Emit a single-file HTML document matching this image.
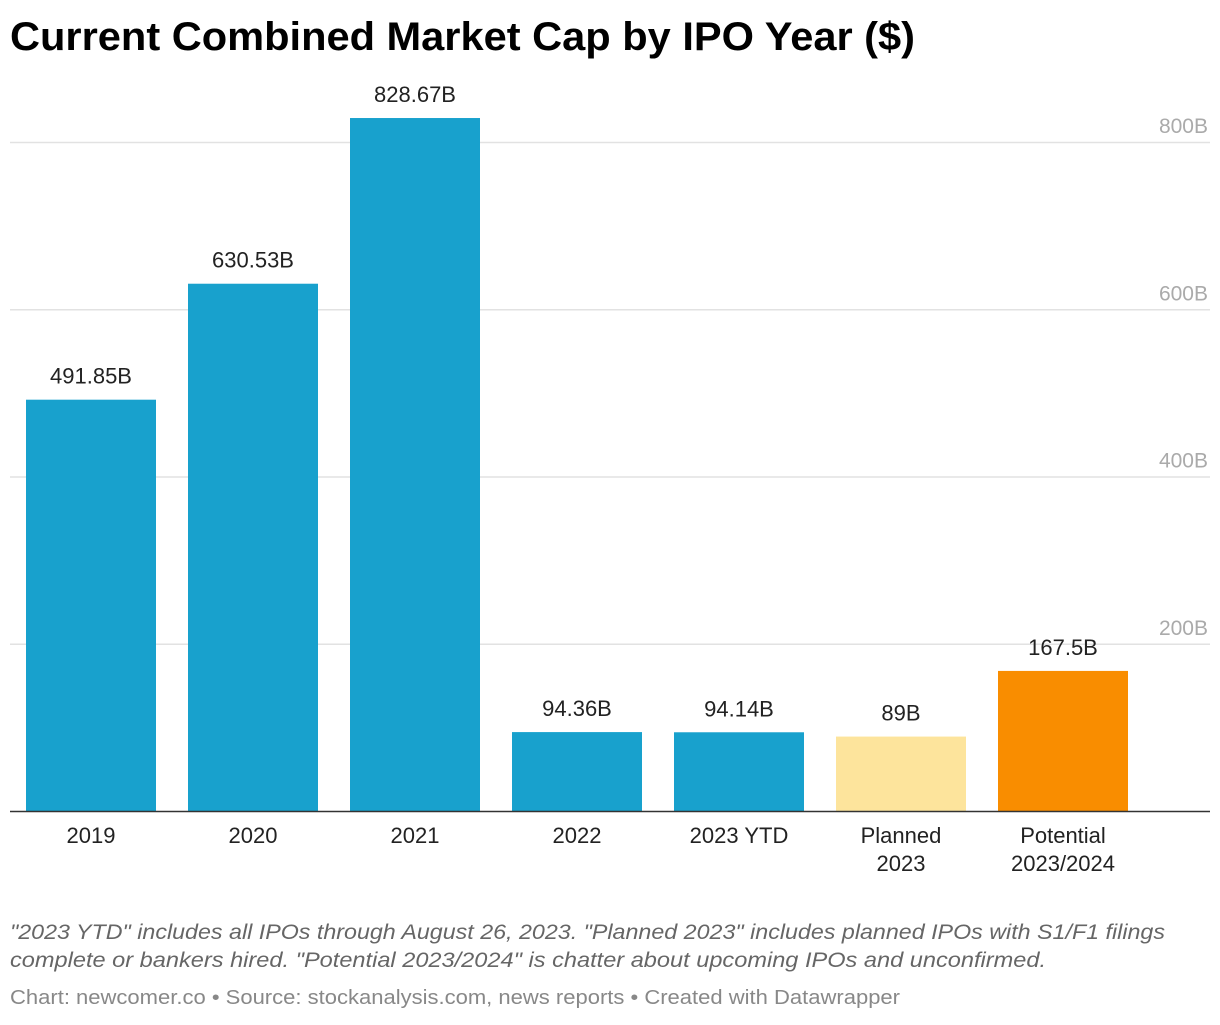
<!DOCTYPE html>
<html><head><meta charset="utf-8"><style>
body{margin:0;background:#fff;width:1220px;height:1020px;overflow:hidden;font-family:"Liberation Sans",Roboto,sans-serif;}
svg text{font-family:"Liberation Sans",sans-serif;}
</style></head><body>
<svg width="1220" height="1020">
<text x="10" y="50" font-size="40" font-weight="bold" fill="#000" textLength="905" lengthAdjust="spacingAndGlyphs">Current Combined Market Cap by IPO Year ($)</text>
<g id="grid"></g><g id="bars"></g>
<line x1="10" x2="1210" y1="811.5" y2="811.5" stroke="#333" stroke-width="1.5"/>
<text font-size="21" font-style="italic" fill="#666"><tspan x="10" y="939" textLength="1155" lengthAdjust="spacingAndGlyphs">"2023 YTD" includes all IPOs through August 26, 2023. "Planned 2023" includes planned IPOs with S1/F1 filings</tspan><tspan x="10" y="967" textLength="1036" lengthAdjust="spacingAndGlyphs">complete or bankers hired. "Potential 2023/2024" is chatter about upcoming IPOs and unconfirmed.</tspan></text>
<text x="10" y="1004" font-size="20" fill="#888" textLength="890" lengthAdjust="spacingAndGlyphs">Chart: newcomer.co • Source: stockanalysis.com, news reports  • Created with Datawrapper</text>
</svg>
<script>
const categories=[["2019"],["2020"],["2021"],["2022"],["2023 YTD"],["Planned","2023"],["Potential","2023/2024"]];
const values=[491.85,630.53,828.67,94.36,94.14,89,167.5];
const valueLabels=["491.85B","630.53B","828.67B","94.36B","94.14B","89B","167.5B"];
const colors=["#18a1cd","#18a1cd","#18a1cd","#18a1cd","#18a1cd","#fde49c","#f98d00"];
const ticks=[200,400,600,800];
const tickLabels=["200B","400B","600B","800B"];
const NS="http://www.w3.org/2000/svg";
const y=v=>811-v*(669/800);
const x=i=>26+i*162;
const bw=130;
function mk(t,a,p){const e=document.createElementNS(NS,t);for(const k in a)e.setAttribute(k,a[k]);p.appendChild(e);return e;}
const g=document.getElementById('grid'),b=document.getElementById('bars');
ticks.forEach((t,i)=>{
 const l=mk('line',{x1:10,x2:1210,y1:y(t)+0.5,y2:y(t)+0.5,stroke:'#e2e2e2','stroke-width':1.5},g);
 
 
 const tx=mk('text',{x:1208,y:y(t)-9,'text-anchor':'end','font-size':21,fill:'#aaa'},g);
 tx.textContent=tickLabels[i];
 
 
});
values.forEach((v,i)=>{
 const r=mk('rect',{x:x(i),y:y(v),width:bw,height:811-y(v),fill:colors[i]},b);
 
 
 const t=mk('text',{x:x(i)+bw/2,y:y(v)-16,'text-anchor':'middle','font-size':22,fill:'#222'},b);
 t.textContent=valueLabels[i];
 
 
 categories[i].forEach((c,j)=>{
  const ct=mk('text',{x:x(i)+bw/2,y:843+j*28,'text-anchor':'middle','font-size':22,fill:'#222'},b);
  ct.textContent=c;
  
  
 });
});
</script>
</body></html>
